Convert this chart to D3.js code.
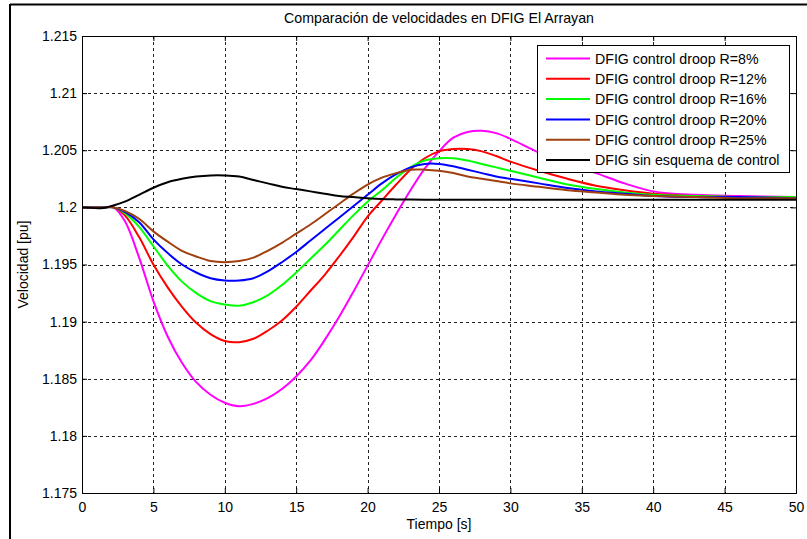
<!DOCTYPE html>
<html>
<head>
<meta charset="utf-8">
<script src="https://cdn.jsdelivr.net/npm/d3@7"></script>
<style>
  html, body { margin: 0; padding: 0; background: #fff; }
  svg { display: block; font-family: "Liberation Sans", Arial, sans-serif; }
</style>
</head>
<body>
<svg id="chart" width="807" height="539"></svg>
<script>
// ---- data ----
const times = [0, 1.5, 2.2, 3, 4, 5, 6, 7, 8, 9, 10, 11, 12, 13, 14, 15, 16, 17, 18, 19, 20,
  21, 22, 23, 24, 25, 26, 27, 28, 29, 30, 32, 34, 36, 38, 40, 43, 46, 50];

const droop8 = [1.2, 1.2, 1.2, 1.1988, 1.1956, 1.1918, 1.1887, 1.1864, 1.1847, 1.1836, 1.1829,
  1.1826, 1.1828, 1.1833, 1.1841, 1.1852, 1.1866, 1.1884, 1.1904, 1.1926, 1.1949,
  1.1972, 1.1994, 1.2015, 1.2034, 1.2049, 1.2061, 1.2066, 1.2067, 1.2065, 1.2060,
  1.2048, 1.2038, 1.2030, 1.2021, 1.2014, 1.2011, 1.2010, 1.2009];
const droop12 = [1.2, 1.2, 1.2, 1.1993, 1.1974, 1.1950, 1.1930, 1.1913, 1.1899, 1.1889, 1.1883,
  1.1882, 1.1885, 1.1892, 1.1901, 1.1913, 1.1927, 1.1941, 1.1957, 1.1974, 1.1992,
  1.2006, 1.2020, 1.2033, 1.2043, 1.2049, 1.2051, 1.2051, 1.2049, 1.2045, 1.2040,
  1.2032, 1.2025, 1.2019, 1.2015, 1.2012, 1.2010, 1.2009, 1.2009];
const droop16 = [1.2, 1.2, 1.2, 1.1995, 1.1983, 1.1966, 1.1949, 1.1935, 1.1925, 1.1918, 1.1915,
  1.1914, 1.1917, 1.1923, 1.1932, 1.1943, 1.1955, 1.1967, 1.1980, 1.1993, 1.2005,
  1.2015, 1.2026, 1.2035, 1.2041, 1.2043, 1.2043, 1.2041, 1.2038, 1.2035, 1.2032,
  1.2026, 1.2020, 1.2016, 1.2013, 1.2011, 1.2010, 1.2009, 1.2009];
const droop20 = [1.2, 1.2, 1.2, 1.1996, 1.1987, 1.1972, 1.1960, 1.1950, 1.1943, 1.1938, 1.1936,
  1.1936, 1.1938, 1.1944, 1.1952, 1.1961, 1.1971, 1.1981, 1.1991, 1.2001, 1.2011,
  1.2021, 1.2029, 1.2035, 1.2038, 1.2038, 1.2036, 1.2033, 1.2030, 1.2027, 1.2025,
  1.2021, 1.2017, 1.2014, 1.2012, 1.2010, 1.2009, 1.2009, 1.2008];
const droop25 = [1.2, 1.2, 1.2, 1.1997, 1.1990, 1.1979, 1.1970, 1.1962, 1.1957, 1.1953, 1.1952,
  1.1953, 1.1956, 1.1962, 1.1969, 1.1977, 1.1985, 1.1994, 1.2003, 1.2012, 1.2020,
  1.2026, 1.2030, 1.2033, 1.2033, 1.2032, 1.2030, 1.2027, 1.2025, 1.2023, 1.2021,
  1.2018, 1.2015, 1.2013, 1.2011, 1.2010, 1.2009, 1.2008, 1.2008];
const sinControl = [1.2, 1.19995, 1.20017, 1.2005, 1.2011, 1.20172, 1.2022, 1.2025, 1.2027, 1.2028, 1.2028,
  1.2027, 1.2024, 1.2021, 1.2018, 1.2016, 1.2014, 1.2012, 1.2010, 1.2009, 1.2008,
  1.20073, 1.2007, 1.20068, 1.20067, 1.20067, 1.20067, 1.20067, 1.20067, 1.20067, 1.20067,
  1.20067, 1.20067, 1.20067, 1.20067, 1.20067, 1.20067, 1.20067, 1.20067];

const seriesNames = ["DFIG control droop R=8%", "DFIG control droop R=12%", "DFIG control droop R=16%",
  "DFIG control droop R=20%", "DFIG control droop R=25%", "DFIG sin esquema de control"];
const seriesColors = ["#ff00ff", "#ff0000", "#00ff00", "#0000ff", "#a0400f", "#000000"];
const seriesValues = [droop8, droop12, droop16, droop20, droop25, sinControl];

const xTicks = [0, 5, 10, 15, 20, 25, 30, 35, 40, 45, 50];
const xTickLabels = ["0", "5", "10", "15", "20", "25", "30", "35", "40", "45", "50"];
const yTicks = [1.175, 1.18, 1.185, 1.19, 1.195, 1.2, 1.205, 1.21, 1.215];
const yTickLabels = ["1.175", "1.18", "1.185", "1.19", "1.195", "1.2", "1.205", "1.21", "1.215"];

const titleText = "Comparación de velocidades en DFIG El Arrayan";
const xLabelText = "Tiempo [s]";
const yLabelText = "Velocidad [pu]";

// ---- layout ----
const L = 82, R = 796, T = 36, B = 493;
const svg = d3.select("#chart");
const x = d3.scaleLinear().domain([0, 50]).range([L, R]);
const y = d3.scaleLinear().domain([1.175, 1.215]).range([B, T]);

// outer figure frame (cropped screenshot edges)
svg.append("line").attr("x1", 10).attr("x2", 10).attr("y1", 4).attr("y2", 539)
  .attr("stroke", "#000").attr("stroke-width", 2);
svg.append("line").attr("x1", 10).attr("x2", 807).attr("y1", 4.5).attr("y2", 4.5)
  .attr("stroke", "#000").attr("stroke-width", 2);

// plot background
svg.append("rect").attr("x", L).attr("y", T).attr("width", R - L).attr("height", B - T)
  .attr("fill", "#fff");

// grid
const grid = svg.append("g").attr("stroke", "#222").attr("stroke-width", 1).attr("stroke-dasharray", "3,3");
xTicks.filter(d => d > 0 && d < 50).forEach(d => {
  grid.append("line").attr("x1", Math.round(x(d)) + 0.5).attr("x2", Math.round(x(d)) + 0.5)
    .attr("y1", T).attr("y2", B);
});
yTicks.filter(d => d > 1.175 && d < 1.215).forEach(d => {
  grid.append("line").attr("y1", Math.round(y(d)) + 0.5).attr("y2", Math.round(y(d)) + 0.5)
    .attr("x1", L).attr("x2", R);
});

// axes
const fontSize = 14;
const xAxis = svg.append("g").attr("transform", `translate(0,${B})`)
  .call(d3.axisBottom(x).tickValues(xTicks).tickFormat((d, i) => xTickLabels[i]).tickSize(-5).tickPadding(9));
const yAxis = svg.append("g").attr("transform", `translate(${L},0)`)
  .call(d3.axisLeft(y).tickValues(yTicks).tickFormat((d, i) => yTickLabels[i]).tickSize(-5).tickPadding(5));
const xAxisTop = svg.append("g").attr("transform", `translate(0,${T})`)
  .call(d3.axisTop(x).tickValues(xTicks).tickFormat("").tickSize(-5));
const yAxisRight = svg.append("g").attr("transform", `translate(${R},0)`)
  .call(d3.axisRight(y).tickValues(yTicks).tickFormat("").tickSize(-5));
[xAxis, yAxis, xAxisTop, yAxisRight].forEach(g => {
  g.select(".domain").remove();
  g.selectAll("line").attr("stroke", "#000");
  g.selectAll("text").attr("font-size", fontSize).attr("fill", "#000")
    .attr("font-family", "'Liberation Sans', Arial, sans-serif");
});

// lines
const line = d3.line().x((d, i) => x(times[i])).y(d => y(d)).curve(d3.curveCatmullRom.alpha(0.5));
const linesG = svg.append("g");
seriesValues.forEach((vals, k) => {
  linesG.append("path").datum(vals).attr("d", line)
    .attr("fill", "none").attr("stroke", seriesColors[k]).attr("stroke-width", 2)
    .attr("stroke-linejoin", "round");
});

// box
svg.append("rect").attr("x", L + 0.5).attr("y", T + 0.5).attr("width", R - L).attr("height", B - T)
  .attr("fill", "none").attr("stroke", "#000").attr("stroke-width", 1);

// title and labels
svg.append("text").attr("x", (L + R) / 2).attr("y", 23).attr("text-anchor", "middle")
  .attr("font-size", 14.2).text(titleText);
svg.append("text").attr("x", (L + R) / 2).attr("y", 529).attr("text-anchor", "middle")
  .attr("font-size", 14).text(xLabelText);
svg.append("text").attr("transform", `translate(28,${(T + B) / 2}) rotate(-90)`)
  .attr("text-anchor", "middle").attr("font-size", 14).text(yLabelText);

// legend
const legG = svg.append("g");
legG.append("rect").attr("x", 537.5).attr("y", 45.5).attr("width", 252).attr("height", 127)
  .attr("fill", "#fff").attr("stroke", "#000").attr("stroke-width", 1);
seriesNames.forEach((name, k) => {
  const yy = 58.5 + k * 20.3;
  legG.append("line").attr("x1", 546).attr("x2", 590).attr("y1", yy).attr("y2", yy)
    .attr("stroke", seriesColors[k]).attr("stroke-width", 2);
  legG.append("text").attr("x", 595).attr("y", yy).attr("dy", "0.36em")
    .attr("font-size", 14.2).text(name);
});
</script>
</body>
</html>
